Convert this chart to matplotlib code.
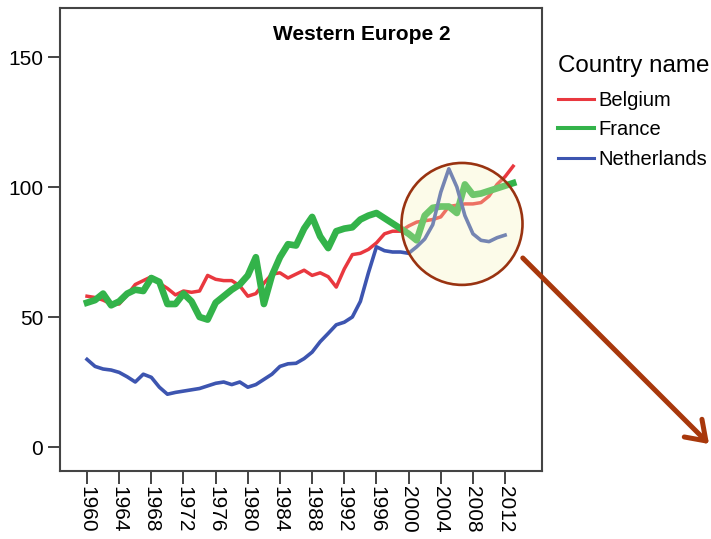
import matplotlib
matplotlib.use('Agg')
import matplotlib.pyplot as plt
from matplotlib import font_manager
from matplotlib.patches import Ellipse

plt.rcParams['font.family'] = ['Liberation Sans', 'DejaVu Sans']

# values
years = list(range(1960, 2014))
belgium = [58, 57.5, 56.5, 55, 55, 58.5, 62.5, 64, 65.5, 63,
           61, 58.5, 60, 59.5, 60, 66, 64.5, 64, 64, 62,
           58, 59, 63, 66.5, 67, 65, 66.5, 68, 66, 67,
           65.5, 61.5, 68.5, 74, 74.5, 76, 78.5, 82, 83, 83,
           85, 86.5, 87, 87.5, 88.5, 92.5, 93, 93.5, 93.5, 94,
           96.5, 101, 104, 108]
france = [55.5, 56.5, 59, 54.5, 56, 59, 60.5, 60, 65, 63.5,
          55, 55, 59, 56, 50, 49, 55.5, 58, 60.5, 62.5,
          66, 73, 55, 66, 73, 78, 77.5, 84, 88.5, 81,
          76.5, 83, 84, 84.5, 87.5, 89, 90, 88, 86, 84,
          82, 79.5, 89, 92, 92.5, 92.5, 90, 101, 97, 97.5,
          98.5, 99.5, 100.5, 101.5]
nl_years = list(range(1960, 2013))
netherlands = [33.7, 31, 30, 29.6, 28.7, 27, 25, 28, 26.8, 23,
               20.3, 21, 21.5, 22, 22.5, 23.5, 24.5, 25, 24, 25,
               23, 24, 26, 28, 31, 32, 32.2, 34, 36.5, 40.5,
               43.7, 47, 48, 50, 56, 67, 77, 75.5, 75, 75,
               74.5, 77, 80, 85.5, 98, 107, 100, 89, 82, 79.5,
               79, 80.5, 81.5]
xtick_years = list(range(1960, 2013, 4))
yticks = [0, 50, 100, 150]

names = [f.name for f in font_manager.fontManager.ttflist]
if 'Liberation Sans Narrow' in names:
    yfont, ysize = 'Liberation Sans Narrow', 17
else:
    yfont, ysize = 'Liberation Sans', 15

fig = plt.figure(figsize=(7.11, 5.39), dpi=100)
ax = fig.add_axes([60/711, 68/539, 482/711, 463/539])

ax.plot(years, belgium, color='#e9383f', lw=2.5, label='Belgium', zorder=2)
ax.plot(years, france, color='#33b34a', lw=4.8, label='France', zorder=2)
ax.plot(nl_years, netherlands, color='#3d55b0', lw=2.6, label='Netherlands', zorder=2)

ax.set_xlim(1956.64, 2016.59)
ax.set_ylim(-9.23, 168.85)
ax.set_xticks(xtick_years)
ax.set_xticklabels([str(y) for y in xtick_years], rotation=270, fontsize=15)
ax.set_yticks(yticks)
ax.set_yticklabels([str(v) for v in yticks], fontsize=ysize, family=[yfont, 'DejaVu Sans'])
ax.tick_params(axis='x', length=9, width=1.4, color='#444444', pad=2)
ax.tick_params(axis='y', length=9, width=1.4, color='#444444', pad=3)
for s in ax.spines.values():
    s.set_linewidth(1.5)
    s.set_color('#444444')

ax.text(0.6255, 0.942, 'Western Europe 2', transform=ax.transAxes,
        ha='center', va='center', fontsize=15, fontweight='bold')

# magnifier circle and arrow
circ = Ellipse((2006.64, 85.8), 15.05, 46.9, facecolor='#f7f5b8', alpha=0.3,
               edgecolor='none', zorder=3)
ax.add_patch(circ)
ring = Ellipse((2006.64, 85.8), 15.05, 46.9, facecolor='none',
               edgecolor='#993311', lw=1.9, zorder=4)
ax.add_patch(ring)
ax.annotate('', xy=(709/711, 1-444/539), xycoords='figure fraction',
            xytext=(2014.2, 72.7), textcoords='data',
            arrowprops=dict(arrowstyle='->,head_length=1.3,head_width=0.9',
                            color='#a8380c', lw=3.6, mutation_scale=10,
                            shrinkA=0, shrinkB=0),
            annotation_clip=False)

leg = ax.legend(loc='upper left', bbox_to_anchor=(558/711, 1-55/539),
                bbox_transform=fig.transFigure, frameon=False, fontsize=14.5,
                title='Country name', title_fontsize=17.4, alignment='left',
                borderpad=0, borderaxespad=0, handlelength=1.8,
                handletextpad=0.2, labelspacing=0.52)
leg._legend_box.sep = 10
for ln, w in zip(leg.get_lines(), [2.2, 2.9, 2.2]):
    ln.set_linewidth(w)

fig.savefig('out.png', dpi=100)
